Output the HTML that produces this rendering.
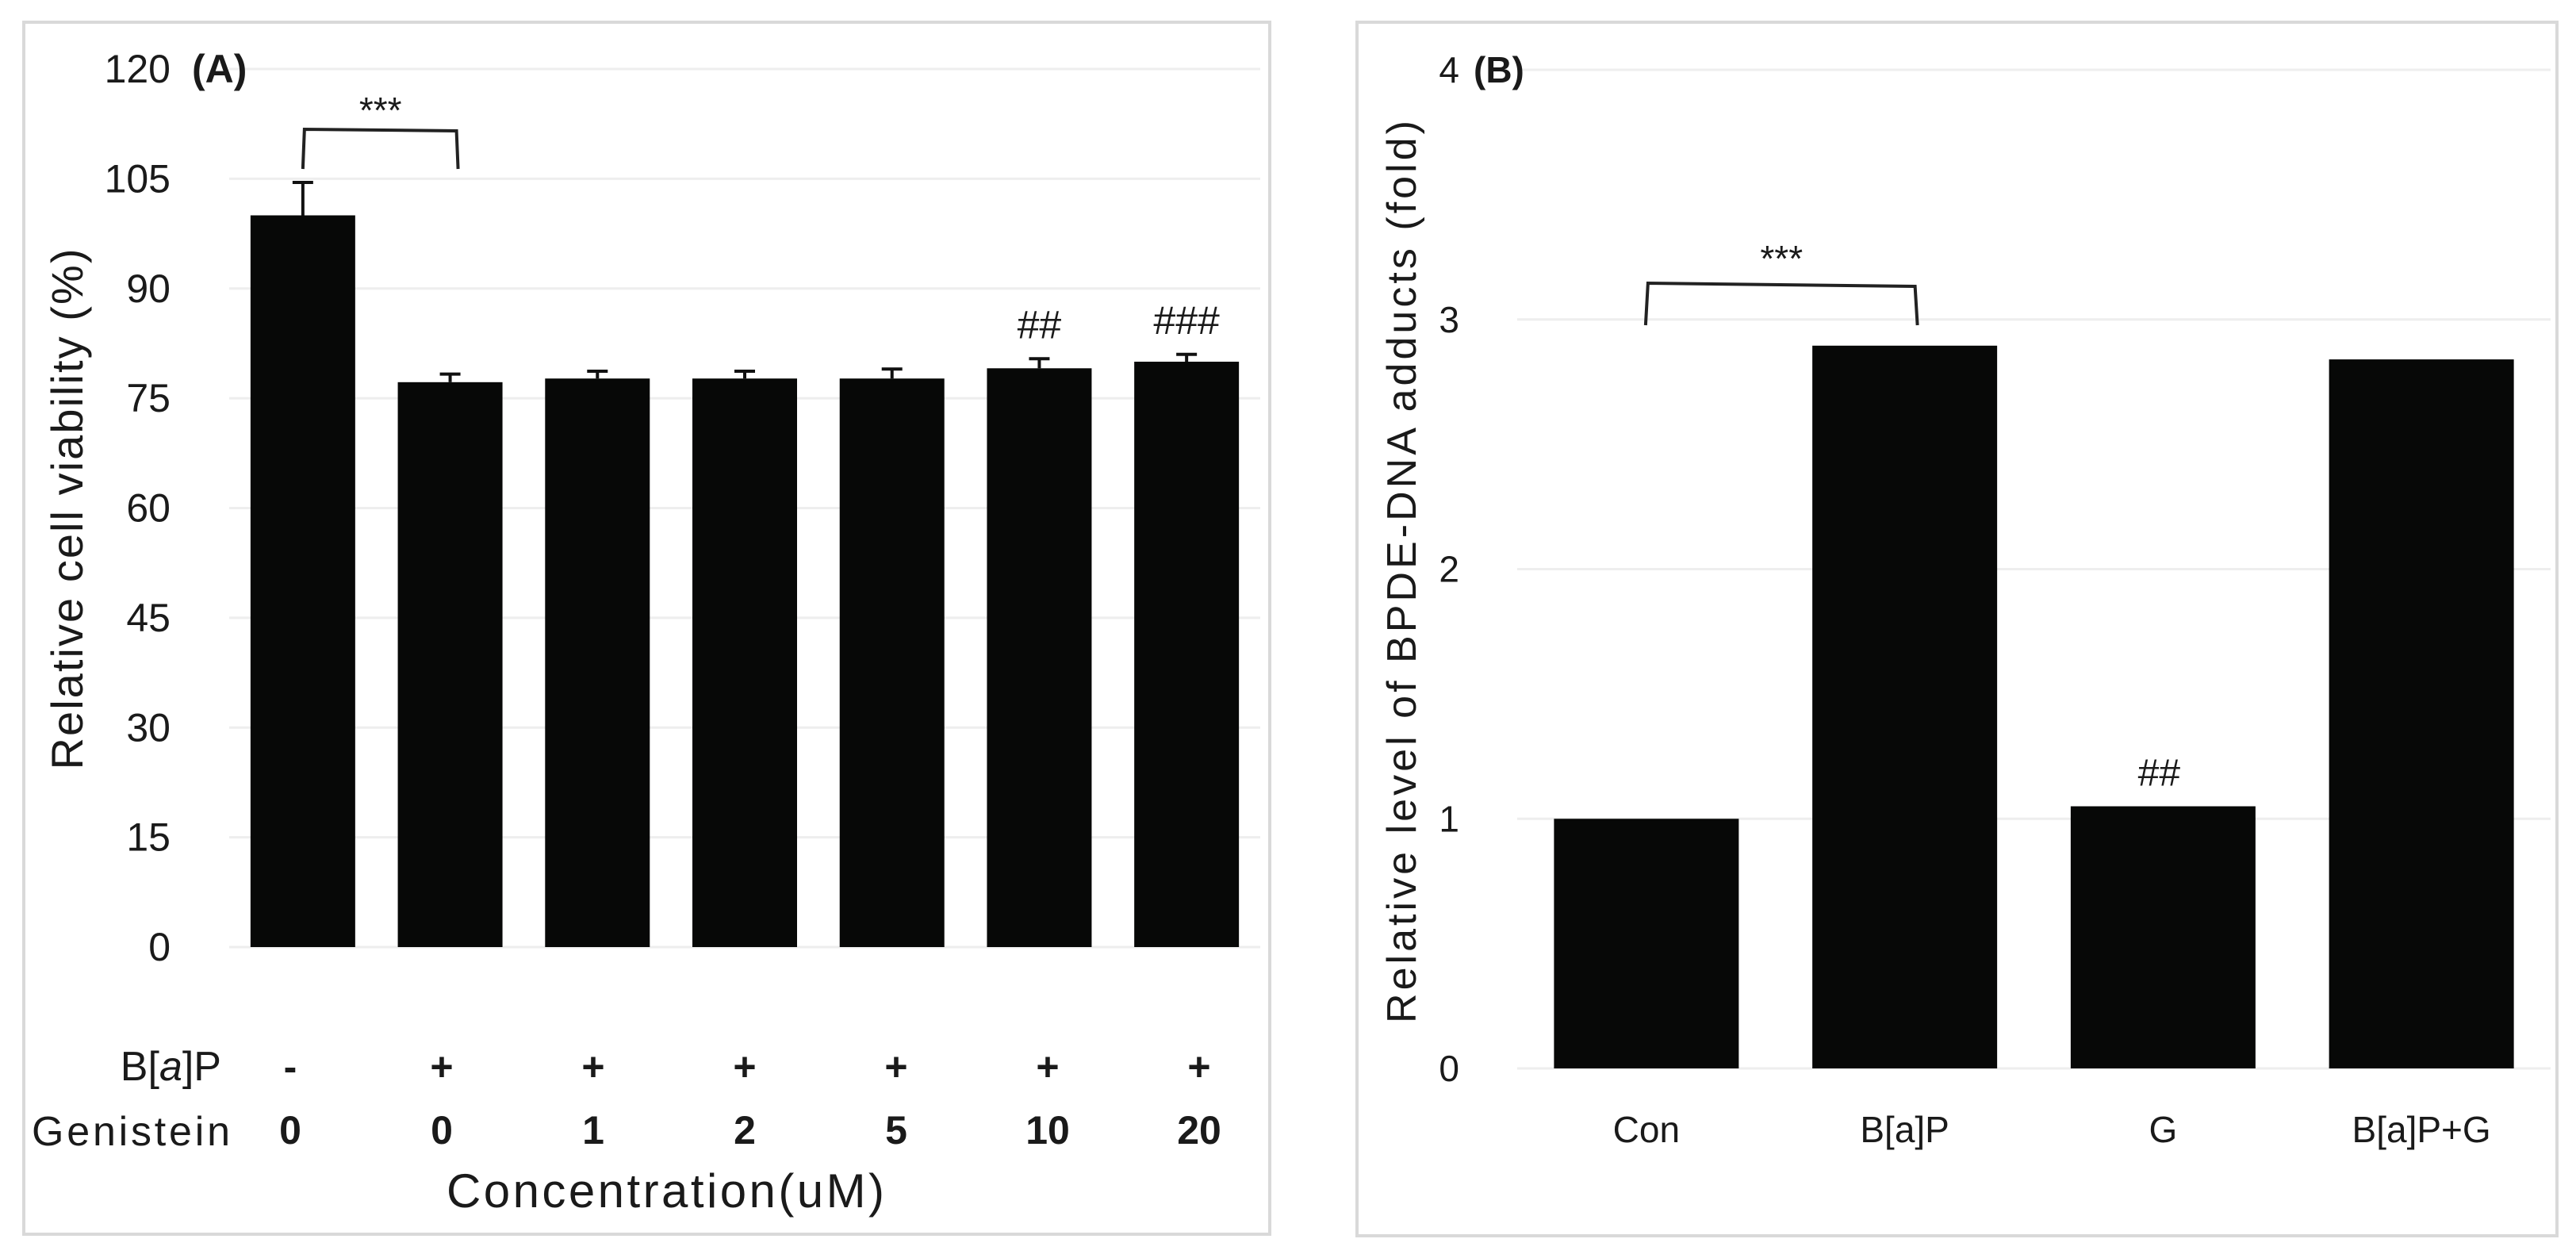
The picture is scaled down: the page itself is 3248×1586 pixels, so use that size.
<!DOCTYPE html>
<html><head><meta charset="utf-8">
<style>
html,body{margin:0;padding:0;background:#fff;}
svg{display:block;}
text{font-family:"Liberation Sans",sans-serif;fill:#1a1a1a;}
</style></head>
<body>
<svg id="fig" width="3248" height="1586" viewBox="0 0 3248 1586" xmlns="http://www.w3.org/2000/svg">
  <rect x="30" y="28" width="1571" height="1528" fill="#fff" stroke="#d9d9d9" stroke-width="4"/>
  <rect x="1711" y="28" width="1513" height="1530" fill="#fff" stroke="#d9d9d9" stroke-width="4"/>
  <g id="chartA"></g>
  <g id="chartB"></g>
</svg>
<script>
// ---------- Panel A data ----------
const catsA = ["0","0","1","2","5","10","20"];
const bapA = ["-","+","+","+","+","+","+"];
const valuesA = [100.0, 77.2, 77.7, 77.7, 77.7, 79.1, 80.0];
const errorsA = [4.5, 1.1, 1.0, 1.0, 1.3, 1.3, 1.0];
const ticksA = [0,15,30,45,60,75,90,105,120];
const marksA = ["","","","","","##","###"];

// ---------- Panel B data ----------
const catsB = ["Con","B[a]P","G","B[a]P+G"];
const valuesB = [1.0, 2.895, 1.05, 2.84];
const ticksB = [0,1,2,3,4];
const marksB = ["","","##",""];

const NS = "http://www.w3.org/2000/svg";
function mk(parent, tag, attrs, txt){
  const e = document.createElementNS(NS, tag);
  for (const k in attrs) e.setAttribute(k, attrs[k]);
  if (txt !== undefined) e.textContent = txt;
  parent.appendChild(e);
  return e;
}

// ===== Panel A =====
(function(){
  const g = document.getElementById("chartA");
  const x0 = 289, x1 = 1589, yBase = 1194, yTop = 87, yMax = 120;
  const band = (x1 - x0) / catsA.length;
  const bw = 132;
  const y = v => yBase - (v / yMax) * (yBase - yTop);
  const xc = i => x0 + band * (i + 0.5);

  ticksA.forEach(t => {
    const ln = mk(g, "line", {x1: x0, x2: x1, y1: y(t), y2: y(t), stroke: "#eeeeee", "stroke-width": 3});
    
    
    const tx = mk(g, "text", {x: 215, y: y(t) + 17, "text-anchor": "end", "font-size": 50}, String(t));
    
    
  });
  const lab = mk(g, "text", {x: 242, y: 104, "font-size": 50, "font-weight": "bold"}, "(A)");
  
  

  valuesA.forEach((v, i) => {
    const r = mk(g, "rect", {x: xc(i) - bw/2, y: y(v), width: bw, height: yBase - y(v), fill: "#070807"});
    
    
    const et = y(v + errorsA[i]);
    const e1 = mk(g, "line", {x1: xc(i), x2: xc(i), y1: y(v), y2: et, stroke: "#111", "stroke-width": 4});
    
    
    const e2 = mk(g, "line", {x1: xc(i) - 13, x2: xc(i) + 13, y1: et, y2: et, stroke: "#111", "stroke-width": 4});
    
    
    if (marksA[i]) {
      const m = mk(g, "text", {x: xc(i), y: et - 26, "text-anchor": "middle", "font-size": 50}, marksA[i]);
      
      
    }
  });

  const bx1 = xc(0), bx2 = xc(1) + 10;
  const br = mk(g, "path", {d: `M${bx1} 213 L${bx1+2} 163 L${bx2-2} 165 L${bx2} 213`, fill: "none", stroke: "#222", "stroke-width": 4});
  
  
  const st = mk(g, "text", {x: (bx1 + bx2)/2, y: 155, "text-anchor": "middle", "font-size": 46}, "***");
  
  

  const b = mk(g, "text", {x: 279, y: 1362, "text-anchor": "end", "font-size": 52});
  
  
  b.innerHTML = 'B[<tspan font-style="italic">a</tspan>]P';
  const gn = mk(g, "text", {x: 40, y: 1444, "font-size": 52, textLength: 250}, "Genistein");
  
  
  const lx0 = 366, lstep = 191;
  catsA.forEach((c, i) => {
    const s = mk(g, "text", {x: lx0 + lstep*i, y: 1362, "text-anchor": "middle", "font-size": 50, "font-weight": "bold", fill: "#333"}, bapA[i]);
    
    
    const c2 = mk(g, "text", {x: lx0 + lstep*i, y: 1442, "text-anchor": "middle", "font-size": 50, "font-weight": "bold", fill: "#333"}, c);
    
    
  });
  const xt = mk(g, "text", {x: 839, y: 1522, "text-anchor": "middle", "font-size": 60, textLength: 552}, "Concentration(uM)");
  
  
  const yt = mk(g, "text", {x: 0, y: 0, "text-anchor": "middle", "font-size": 56, textLength: 657, transform: "translate(104,642) rotate(-90)"}, "Relative cell viability (%)");
  
  
})();

// ===== Panel B =====
(function(){
  const g = document.getElementById("chartB");
  const x0 = 1913, x1 = 3216, yBase = 1347, yTop = 88, yMax = 4;
  const band = (x1 - x0) / catsB.length;
  const bw = 233;
  const y = v => yBase - (v / yMax) * (yBase - yTop);
  const xc = i => x0 + band * (i + 0.5);

  ticksB.forEach(t => {
    const ln = mk(g, "line", {x1: x0, x2: x1, y1: y(t), y2: y(t), stroke: "#eeeeee", "stroke-width": 3});
    
    
    const tx = mk(g, "text", {x: 1840, y: y(t) + 16, "text-anchor": "end", "font-size": 46}, String(t));
    
    
  });
  const lab = mk(g, "text", {x: 1858, y: 104, "font-size": 46, "font-weight": "bold"}, "(B)");
  
  

  valuesB.forEach((v, i) => {
    const r = mk(g, "rect", {x: xc(i) - bw/2, y: y(v), width: bw, height: yBase - y(v), fill: "#070807"});
    
    
    const tx = mk(g, "text", {x: xc(i), y: 1440, "text-anchor": "middle", "font-size": 46}, catsB[i]);
    
    
    if (marksB[i]) {
      const m = mk(g, "text", {x: xc(i) - 5, y: y(v) - 26, "text-anchor": "middle", "font-size": 48}, marksB[i]);
      
      
    }
  });

  const bx1 = xc(0) - 1, bx2 = xc(1) + 16;
  const br = mk(g, "path", {d: `M${bx1} 410 L${bx1+3} 357 L${bx2-3} 361 L${bx2} 410`, fill: "none", stroke: "#222", "stroke-width": 4});
  
  
  const st = mk(g, "text", {x: (bx1 + bx2)/2, y: 342, "text-anchor": "middle", "font-size": 46}, "***");
  
  

  const yt = mk(g, "text", {x: 0, y: 0, "text-anchor": "middle", "font-size": 52, textLength: 1138, transform: "translate(1785,721) rotate(-90)"}, "Relative level  of BPDE-DNA adducts (fold)");
  
  
})();
</script>
</body></html>
